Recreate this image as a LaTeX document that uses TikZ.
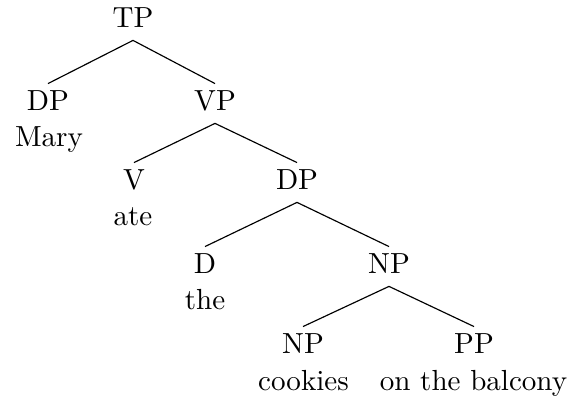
\documentclass[tikz,border=0pt]{standalone}
\begin{document}
\begin{tikzpicture}[x=0.344pt, y=-0.344pt,
  cat/.style={inner sep=0pt, anchor=base},
  word/.style={inner sep=0pt, anchor=base},
  branch/.style={line width=0.4pt}]
\useasboundingbox (0,0) rectangle (569,397);

% category labels (placed by baseline)
\node[cat] (tp)  at (133,27)  {TP};
\node[cat] (dp1) at (48,110)  {DP};
\node[cat] (vp)  at (215,110) {VP};
\node[cat] (v)   at (134,189) {V};
\node[cat] (dp2) at (297,189) {DP};
\node[cat] (d)   at (205,273) {D};
\node[cat] (np1) at (389,273) {NP};
\node[cat] (np2) at (303,353) {NP};
\node[cat] (pp)  at (474,353) {PP};

% terminal words
\node[word] (mary)    at (49,146)    {Mary};
\node[word] (ate)     at (133,225)   {ate};
\node[word] (the)     at (205,309)   {the};
\node[word] (cookies) at (303.5,390) {cookies};
\node[word] (balcony) at (473.5,390) {on the balcony};

% branches: from just below the parent to just above the child
\foreach \p/\c in {tp/dp1, tp/vp, vp/v, vp/dp2, dp2/d, dp2/np1, np1/np2, np1/pp}
  \draw[branch] ([yshift=-4.6pt]\p.base) -- ([yshift=9.1pt]\c.base);
\end{tikzpicture}
\end{document}
